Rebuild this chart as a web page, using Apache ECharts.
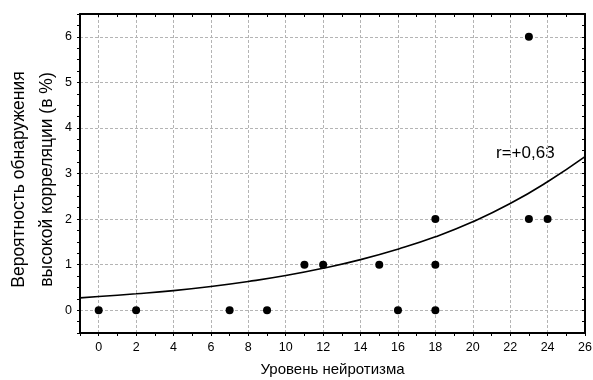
<!DOCTYPE html>
<html>
<head>
<meta charset="utf-8">
<script src="https://cdn.jsdelivr.net/npm/echarts@6/dist/echarts.min.js"></script>
<style>
html,body{margin:0;padding:0;background:#fff;}
#c{width:593px;height:380px;}
</style>
</head>
<body>
<div id="c"></div>
<script>
// Scatter points: neuroticism level (x) vs probability (y, %)
const pointX = [0, 2, 7, 9, 11, 12, 15, 16, 18, 18, 18, 23, 23, 24];
const pointY = [0, 0, 0, 0, 1, 1, 1, 0, 0, 1, 2, 6, 2, 2];
// Fitted curve
const curveX = [-1, 0, 2, 4, 6, 8, 10, 12, 14, 16, 18, 20, 22, 24, 26];
const curveY = [0.27, 0.30, 0.36, 0.43, 0.52, 0.63, 0.76, 0.92, 1.11, 1.34, 1.61, 1.94, 2.34, 2.82, 3.37];
// Grid line positions
const gridX = [0, 2, 4, 6, 8, 10, 12, 14, 16, 18, 20, 22, 24];
const gridY = [0, 1, 2, 3, 4, 5, 6];
const xTitle = 'Уровень нейротизма';
const yTitle = 'Вероятность обнаружения\nвысокой корреляции (в %)';
const annotation = 'r=+0,63';

const FONT = 'Liberation Sans, Arial, sans-serif';
const chart = echarts.init(document.getElementById('c'), null, {renderer: 'canvas'});

const axisLineStyle = {color: '#000', width: 2};
const gridLineStyle = {color: '#b4b4b4', width: 1, type: [3, 2]};

const markLineData = [];
gridX.forEach(v => markLineData.push({xAxis: v}));
gridY.forEach(v => markLineData.push({yAxis: v}));

chart.setOption({
  animation: false,
  backgroundColor: '#fff',
  grid: {left: 80, right: 8, top: 14, bottom: 47, containLabel: false, outerBoundsMode: 'none'},
  xAxis: [{
    type: 'value', min: -1, max: 26, interval: 1, position: 'bottom',
    name: xTitle, nameLocation: 'middle', nameGap: 29,
    nameTextStyle: {fontFamily: FONT, fontSize: 15, color: '#000'},
    axisLine: {show: true, lineStyle: axisLineStyle, onZero: false},
    axisTick: {show: true, inside: false, length: 3, lineStyle: {color: '#000', width: 1}},
    axisLabel: {fontFamily: FONT, fontSize: 12.5, color: '#000', margin: 8,
      formatter: v => (v >= 0 && v % 2 === 0) ? String(v) : ''},
    splitLine: {show: false}
  }, {
    type: 'value', min: -1, max: 26, interval: 1, position: 'top',
    axisLine: {show: true, lineStyle: axisLineStyle, onZero: false},
    axisTick: {show: true, inside: true, length: 3, lineStyle: {color: '#000', width: 1}},
    axisLabel: {show: false}, splitLine: {show: false}
  }],
  yAxis: [{
    type: 'value', min: -0.5, max: 6.5, interval: 0.25, position: 'left',
    name: yTitle, nameLocation: 'middle', nameGap: 19, nameRotate: 90,
    nameMoveOverlap: false,
    nameTextStyle: {fontFamily: FONT, fontSize: 17.5, color: '#000', lineHeight: 28,
      padding: [0, 12, 0, 0]},
    axisLine: {show: true, lineStyle: axisLineStyle, onZero: false},
    axisTick: {show: true, inside: false, length: 3, lineStyle: {color: '#000', width: 1}},
    axisLabel: {fontFamily: FONT, fontSize: 12.5, color: '#000', margin: 8,
      formatter: v => Number.isInteger(v) ? String(v) : ''},
    splitLine: {show: false}
  }, {
    type: 'value', min: -0.5, max: 6.5, interval: 0.25, position: 'right',
    axisLine: {show: true, lineStyle: axisLineStyle, onZero: false},
    axisTick: {show: true, inside: true, length: 3, lineStyle: {color: '#000', width: 1}},
    axisLabel: {show: false}, splitLine: {show: false}
  }],
  graphic: [{
    type: 'text', left: 496, top: 145,
    style: {text: annotation, font: '17px ' + FONT, fill: '#000'}
  }],
  series: [{
    type: 'line', xAxisIndex: 0, yAxisIndex: 0,
    data: [], silent: true, z: 0,
    markLine: {silent: true, symbol: 'none', label: {show: false}, z: 0,
      lineStyle: gridLineStyle, data: markLineData, animation: false}
  }, {
    type: 'line', xAxisIndex: 0, yAxisIndex: 0, smooth: true, showSymbol: false,
    data: curveX.map((x, i) => [x, curveY[i]]),
    lineStyle: {color: '#000', width: 1.6}, z: 3
  }, {
    type: 'scatter', xAxisIndex: 0, yAxisIndex: 0, symbolSize: 8,
    data: pointX.map((x, i) => [x, pointY[i]]),
    itemStyle: {color: '#000', opacity: 1}, z: 10
  }]
});
</script>
</body>
</html>
